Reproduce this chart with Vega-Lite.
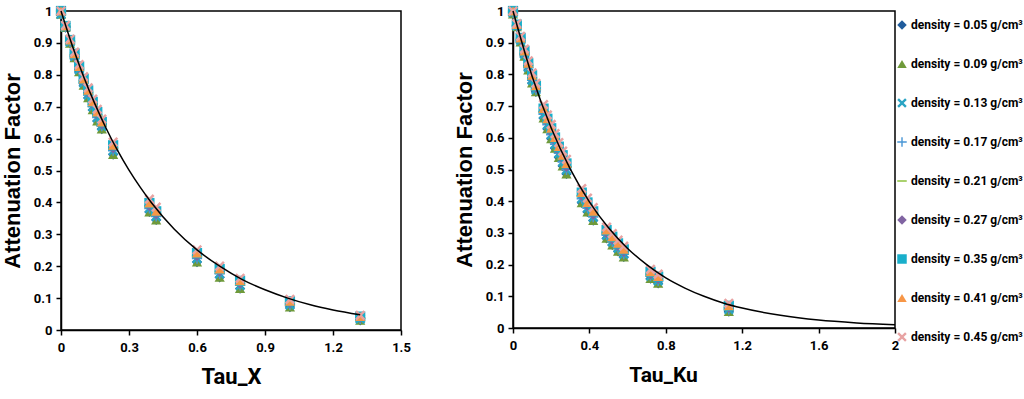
{
 "$schema": "https://vega.github.io/schema/vega-lite/v6.json",
 "background": "white",
 "padding": {"left": 0, "top": 4, "right": 0, "bottom": 0},
 "spacing": 40,
 "config": {
  "view": {"stroke": "#000", "strokeWidth": 1.5},
  "axis": {"grid": false, "domainColor": "#000", "domainWidth": 1.5, "tickColor": "#000", "tickWidth": 1.5, "tickSize": 5, "labelColor": "#000", "titleColor": "#000", "labelFont": "Liberation Sans Narrow, Roboto, sans-serif", "labelFontWeight": "bold", "labelFontSize": 13, "format": "~g", "labelOverlap": false, "labelFlush": false},
  "legend": {"labelFont": "Liberation Sans Narrow, Roboto, sans-serif", "labelFontWeight": "bold", "labelFontSize": 12, "labelColor": "#000", "symbolSize": 90, "symbolStrokeWidth": 0, "rowPadding": 27, "labelOffset": 3, "labelLimit": 200}
 },
 "resolve": {"scale": {"color": "shared", "shape": "shared"}},
 "datasets": {
  "px": [
{"d":"0.05","t":0,"a":0.99},{"d":"0.05","t":0.02,"a":0.948},{"d":"0.05","t":0.04,"a":0.899},{"d":"0.05","t":0.06,"a":0.853},{"d":"0.05","t":0.08,"a":0.809},{"d":"0.05","t":0.1,"a":0.767},{"d":"0.05","t":0.12,"a":0.728},{"d":"0.05","t":0.14,"a":0.69},{"d":"0.05","t":0.16,"a":0.655},{"d":"0.05","t":0.18,"a":0.63},{"d":"0.05","t":0.23,"a":0.55},{"d":"0.05","t":0.39,"a":0.37},{"d":"0.05","t":0.42,"a":0.345},{"d":"0.05","t":0.6,"a":0.213},{"d":"0.05","t":0.7,"a":0.165},{"d":"0.05","t":0.79,"a":0.13},{"d":"0.05","t":1.01,"a":0.072},{"d":"0.05","t":1.32,"a":0.03},
{"d":"0.09","t":0,"a":0.99},{"d":"0.09","t":0.02,"a":0.948},{"d":"0.09","t":0.04,"a":0.899},{"d":"0.09","t":0.06,"a":0.853},{"d":"0.09","t":0.08,"a":0.809},{"d":"0.09","t":0.1,"a":0.767},{"d":"0.09","t":0.12,"a":0.728},{"d":"0.09","t":0.14,"a":0.69},{"d":"0.09","t":0.16,"a":0.655},{"d":"0.09","t":0.18,"a":0.63},{"d":"0.09","t":0.23,"a":0.55},{"d":"0.09","t":0.39,"a":0.37},{"d":"0.09","t":0.42,"a":0.345},{"d":"0.09","t":0.6,"a":0.213},{"d":"0.09","t":0.7,"a":0.165},{"d":"0.09","t":0.79,"a":0.13},{"d":"0.09","t":1.01,"a":0.072},{"d":"0.09","t":1.32,"a":0.03},
{"d":"0.13","t":0,"a":0.99},{"d":"0.13","t":0.02,"a":0.95},{"d":"0.13","t":0.04,"a":0.903},{"d":"0.13","t":0.06,"a":0.858},{"d":"0.13","t":0.08,"a":0.816},{"d":"0.13","t":0.1,"a":0.775},{"d":"0.13","t":0.12,"a":0.737},{"d":"0.13","t":0.14,"a":0.7},{"d":"0.13","t":0.16,"a":0.666},{"d":"0.13","t":0.18,"a":0.639},{"d":"0.13","t":0.23,"a":0.562},{"d":"0.13","t":0.39,"a":0.381},{"d":"0.13","t":0.42,"a":0.356},{"d":"0.13","t":0.6,"a":0.224},{"d":"0.13","t":0.7,"a":0.176},{"d":"0.13","t":0.79,"a":0.14},{"d":"0.13","t":1.01,"a":0.079},{"d":"0.13","t":1.32,"a":0.035},
{"d":"0.17","t":0,"a":0.99},{"d":"0.17","t":0.02,"a":0.95},{"d":"0.17","t":0.04,"a":0.903},{"d":"0.17","t":0.06,"a":0.858},{"d":"0.17","t":0.08,"a":0.816},{"d":"0.17","t":0.1,"a":0.775},{"d":"0.17","t":0.12,"a":0.737},{"d":"0.17","t":0.14,"a":0.7},{"d":"0.17","t":0.16,"a":0.666},{"d":"0.17","t":0.18,"a":0.639},{"d":"0.17","t":0.23,"a":0.562},{"d":"0.17","t":0.39,"a":0.381},{"d":"0.17","t":0.42,"a":0.356},{"d":"0.17","t":0.6,"a":0.224},{"d":"0.17","t":0.7,"a":0.176},{"d":"0.17","t":0.79,"a":0.14},{"d":"0.17","t":1.01,"a":0.079},{"d":"0.17","t":1.32,"a":0.035},
{"d":"0.21","t":0,"a":1},{"d":"0.21","t":0.02,"a":0.952},{"d":"0.21","t":0.04,"a":0.906},{"d":"0.21","t":0.06,"a":0.862},{"d":"0.21","t":0.08,"a":0.821},{"d":"0.21","t":0.1,"a":0.781},{"d":"0.21","t":0.12,"a":0.744},{"d":"0.21","t":0.14,"a":0.707},{"d":"0.21","t":0.16,"a":0.674},{"d":"0.21","t":0.18,"a":0.645},{"d":"0.21","t":0.23,"a":0.57},{"d":"0.21","t":0.39,"a":0.389},{"d":"0.21","t":0.42,"a":0.363},{"d":"0.21","t":0.6,"a":0.232},{"d":"0.21","t":0.7,"a":0.183},{"d":"0.21","t":0.79,"a":0.146},{"d":"0.21","t":1.01,"a":0.084},{"d":"0.21","t":1.32,"a":0.038},
{"d":"0.27","t":0,"a":1},{"d":"0.27","t":0.02,"a":0.952},{"d":"0.27","t":0.04,"a":0.906},{"d":"0.27","t":0.06,"a":0.862},{"d":"0.27","t":0.08,"a":0.821},{"d":"0.27","t":0.1,"a":0.781},{"d":"0.27","t":0.12,"a":0.744},{"d":"0.27","t":0.14,"a":0.707},{"d":"0.27","t":0.16,"a":0.674},{"d":"0.27","t":0.18,"a":0.645},{"d":"0.27","t":0.23,"a":0.57},{"d":"0.27","t":0.39,"a":0.389},{"d":"0.27","t":0.42,"a":0.363},{"d":"0.27","t":0.6,"a":0.232},{"d":"0.27","t":0.7,"a":0.183},{"d":"0.27","t":0.79,"a":0.146},{"d":"0.27","t":1.01,"a":0.084},{"d":"0.27","t":1.32,"a":0.038},
{"d":"0.35","t":0,"a":1},{"d":"0.35","t":0.02,"a":0.953},{"d":"0.35","t":0.04,"a":0.909},{"d":"0.35","t":0.06,"a":0.866},{"d":"0.35","t":0.08,"a":0.826},{"d":"0.35","t":0.1,"a":0.787},{"d":"0.35","t":0.12,"a":0.751},{"d":"0.35","t":0.14,"a":0.715},{"d":"0.35","t":0.16,"a":0.683},{"d":"0.35","t":0.18,"a":0.652},{"d":"0.35","t":0.23,"a":0.579},{"d":"0.35","t":0.39,"a":0.398},{"d":"0.35","t":0.42,"a":0.372},{"d":"0.35","t":0.6,"a":0.241},{"d":"0.35","t":0.7,"a":0.191},{"d":"0.35","t":0.79,"a":0.154},{"d":"0.35","t":1.01,"a":0.09},{"d":"0.35","t":1.32,"a":0.042},
{"d":"0.41","t":0,"a":1},{"d":"0.41","t":0.02,"a":0.953},{"d":"0.41","t":0.04,"a":0.909},{"d":"0.41","t":0.06,"a":0.866},{"d":"0.41","t":0.08,"a":0.826},{"d":"0.41","t":0.1,"a":0.787},{"d":"0.41","t":0.12,"a":0.751},{"d":"0.41","t":0.14,"a":0.715},{"d":"0.41","t":0.16,"a":0.683},{"d":"0.41","t":0.18,"a":0.652},{"d":"0.41","t":0.23,"a":0.579},{"d":"0.41","t":0.39,"a":0.398},{"d":"0.41","t":0.42,"a":0.372},{"d":"0.41","t":0.6,"a":0.241},{"d":"0.41","t":0.7,"a":0.191},{"d":"0.41","t":0.79,"a":0.154},{"d":"0.41","t":1.01,"a":0.09},{"d":"0.41","t":1.32,"a":0.042},
{"d":"0.45","t":0,"a":1},{"d":"0.45","t":0.02,"a":0.955},{"d":"0.45","t":0.04,"a":0.912},{"d":"0.45","t":0.06,"a":0.871},{"d":"0.45","t":0.08,"a":0.832},{"d":"0.45","t":0.1,"a":0.794},{"d":"0.45","t":0.12,"a":0.759},{"d":"0.45","t":0.14,"a":0.724},{"d":"0.45","t":0.16,"a":0.692},{"d":"0.45","t":0.18,"a":0.661},{"d":"0.45","t":0.23,"a":0.589},{"d":"0.45","t":0.39,"a":0.41},{"d":"0.45","t":0.42,"a":0.385},{"d":"0.45","t":0.6,"a":0.251},{"d":"0.45","t":0.7,"a":0.2},{"d":"0.45","t":0.79,"a":0.162},{"d":"0.45","t":1.01,"a":0.096},{"d":"0.45","t":1.32,"a":0.046}
  ],
  "pk": [
{"d":"0.05","t":0,"a":0.99},{"d":"0.05","t":0.02,"a":0.95},{"d":"0.05","t":0.04,"a":0.902},{"d":"0.05","t":0.06,"a":0.857},{"d":"0.05","t":0.08,"a":0.814},{"d":"0.05","t":0.1,"a":0.773},{"d":"0.05","t":0.12,"a":0.745},{"d":"0.05","t":0.16,"a":0.662},{"d":"0.05","t":0.18,"a":0.628},{"d":"0.05","t":0.2,"a":0.597},{"d":"0.05","t":0.22,"a":0.567},{"d":"0.05","t":0.24,"a":0.538},{"d":"0.05","t":0.26,"a":0.511},{"d":"0.05","t":0.28,"a":0.486},{"d":"0.05","t":0.36,"a":0.395},{"d":"0.05","t":0.39,"a":0.366},{"d":"0.05","t":0.42,"a":0.339},{"d":"0.05","t":0.49,"a":0.283},{"d":"0.05","t":0.52,"a":0.262},{"d":"0.05","t":0.55,"a":0.242},{"d":"0.05","t":0.58,"a":0.224},{"d":"0.05","t":0.72,"a":0.156},{"d":"0.05","t":0.76,"a":0.141},{"d":"0.05","t":1.13,"a":0.052},
{"d":"0.09","t":0,"a":0.99},{"d":"0.09","t":0.02,"a":0.95},{"d":"0.09","t":0.04,"a":0.902},{"d":"0.09","t":0.06,"a":0.857},{"d":"0.09","t":0.08,"a":0.814},{"d":"0.09","t":0.1,"a":0.773},{"d":"0.09","t":0.12,"a":0.745},{"d":"0.09","t":0.16,"a":0.662},{"d":"0.09","t":0.18,"a":0.628},{"d":"0.09","t":0.2,"a":0.597},{"d":"0.09","t":0.22,"a":0.567},{"d":"0.09","t":0.24,"a":0.538},{"d":"0.09","t":0.26,"a":0.511},{"d":"0.09","t":0.28,"a":0.486},{"d":"0.09","t":0.36,"a":0.395},{"d":"0.09","t":0.39,"a":0.366},{"d":"0.09","t":0.42,"a":0.339},{"d":"0.09","t":0.49,"a":0.283},{"d":"0.09","t":0.52,"a":0.262},{"d":"0.09","t":0.55,"a":0.242},{"d":"0.09","t":0.58,"a":0.224},{"d":"0.09","t":0.72,"a":0.156},{"d":"0.09","t":0.76,"a":0.141},{"d":"0.09","t":1.13,"a":0.052},
{"d":"0.13","t":0,"a":0.995},{"d":"0.13","t":0.02,"a":0.953},{"d":"0.13","t":0.04,"a":0.907},{"d":"0.13","t":0.06,"a":0.864},{"d":"0.13","t":0.08,"a":0.822},{"d":"0.13","t":0.1,"a":0.782},{"d":"0.13","t":0.12,"a":0.752},{"d":"0.13","t":0.16,"a":0.674},{"d":"0.13","t":0.18,"a":0.641},{"d":"0.13","t":0.2,"a":0.61},{"d":"0.13","t":0.22,"a":0.58},{"d":"0.13","t":0.24,"a":0.551},{"d":"0.13","t":0.26,"a":0.524},{"d":"0.13","t":0.28,"a":0.499},{"d":"0.13","t":0.36,"a":0.408},{"d":"0.13","t":0.39,"a":0.378},{"d":"0.13","t":0.42,"a":0.35},{"d":"0.13","t":0.49,"a":0.293},{"d":"0.13","t":0.52,"a":0.272},{"d":"0.13","t":0.55,"a":0.252},{"d":"0.13","t":0.58,"a":0.233},{"d":"0.13","t":0.72,"a":0.164},{"d":"0.13","t":0.76,"a":0.149},{"d":"0.13","t":1.13,"a":0.059},
{"d":"0.17","t":0,"a":0.995},{"d":"0.17","t":0.02,"a":0.953},{"d":"0.17","t":0.04,"a":0.907},{"d":"0.17","t":0.06,"a":0.864},{"d":"0.17","t":0.08,"a":0.822},{"d":"0.17","t":0.1,"a":0.782},{"d":"0.17","t":0.12,"a":0.752},{"d":"0.17","t":0.16,"a":0.674},{"d":"0.17","t":0.18,"a":0.641},{"d":"0.17","t":0.2,"a":0.61},{"d":"0.17","t":0.22,"a":0.58},{"d":"0.17","t":0.24,"a":0.551},{"d":"0.17","t":0.26,"a":0.524},{"d":"0.17","t":0.28,"a":0.499},{"d":"0.17","t":0.36,"a":0.408},{"d":"0.17","t":0.39,"a":0.378},{"d":"0.17","t":0.42,"a":0.35},{"d":"0.17","t":0.49,"a":0.293},{"d":"0.17","t":0.52,"a":0.272},{"d":"0.17","t":0.55,"a":0.252},{"d":"0.17","t":0.58,"a":0.233},{"d":"0.17","t":0.72,"a":0.164},{"d":"0.17","t":0.76,"a":0.149},{"d":"0.17","t":1.13,"a":0.059},
{"d":"0.21","t":0,"a":1},{"d":"0.21","t":0.02,"a":0.955},{"d":"0.21","t":0.04,"a":0.911},{"d":"0.21","t":0.06,"a":0.869},{"d":"0.21","t":0.08,"a":0.828},{"d":"0.21","t":0.1,"a":0.789},{"d":"0.21","t":0.12,"a":0.758},{"d":"0.21","t":0.16,"a":0.682},{"d":"0.21","t":0.18,"a":0.65},{"d":"0.21","t":0.2,"a":0.619},{"d":"0.21","t":0.22,"a":0.59},{"d":"0.21","t":0.24,"a":0.561},{"d":"0.21","t":0.26,"a":0.534},{"d":"0.21","t":0.28,"a":0.508},{"d":"0.21","t":0.36,"a":0.417},{"d":"0.21","t":0.39,"a":0.386},{"d":"0.21","t":0.42,"a":0.358},{"d":"0.21","t":0.49,"a":0.3},{"d":"0.21","t":0.52,"a":0.279},{"d":"0.21","t":0.55,"a":0.259},{"d":"0.21","t":0.58,"a":0.24},{"d":"0.21","t":0.72,"a":0.17},{"d":"0.21","t":0.76,"a":0.155},{"d":"0.21","t":1.13,"a":0.064},
{"d":"0.27","t":0,"a":1},{"d":"0.27","t":0.02,"a":0.955},{"d":"0.27","t":0.04,"a":0.911},{"d":"0.27","t":0.06,"a":0.869},{"d":"0.27","t":0.08,"a":0.828},{"d":"0.27","t":0.1,"a":0.789},{"d":"0.27","t":0.12,"a":0.758},{"d":"0.27","t":0.16,"a":0.682},{"d":"0.27","t":0.18,"a":0.65},{"d":"0.27","t":0.2,"a":0.619},{"d":"0.27","t":0.22,"a":0.59},{"d":"0.27","t":0.24,"a":0.561},{"d":"0.27","t":0.26,"a":0.534},{"d":"0.27","t":0.28,"a":0.508},{"d":"0.27","t":0.36,"a":0.417},{"d":"0.27","t":0.39,"a":0.386},{"d":"0.27","t":0.42,"a":0.358},{"d":"0.27","t":0.49,"a":0.3},{"d":"0.27","t":0.52,"a":0.279},{"d":"0.27","t":0.55,"a":0.259},{"d":"0.27","t":0.58,"a":0.24},{"d":"0.27","t":0.72,"a":0.17},{"d":"0.27","t":0.76,"a":0.155},{"d":"0.27","t":1.13,"a":0.064},
{"d":"0.35","t":0,"a":1},{"d":"0.35","t":0.02,"a":0.957},{"d":"0.35","t":0.04,"a":0.915},{"d":"0.35","t":0.06,"a":0.874},{"d":"0.35","t":0.08,"a":0.835},{"d":"0.35","t":0.1,"a":0.797},{"d":"0.35","t":0.12,"a":0.764},{"d":"0.35","t":0.16,"a":0.692},{"d":"0.35","t":0.18,"a":0.66},{"d":"0.35","t":0.2,"a":0.63},{"d":"0.35","t":0.22,"a":0.601},{"d":"0.35","t":0.24,"a":0.572},{"d":"0.35","t":0.26,"a":0.545},{"d":"0.35","t":0.28,"a":0.519},{"d":"0.35","t":0.36,"a":0.427},{"d":"0.35","t":0.39,"a":0.396},{"d":"0.35","t":0.42,"a":0.368},{"d":"0.35","t":0.49,"a":0.309},{"d":"0.35","t":0.52,"a":0.288},{"d":"0.35","t":0.55,"a":0.267},{"d":"0.35","t":0.58,"a":0.248},{"d":"0.35","t":0.72,"a":0.177},{"d":"0.35","t":0.76,"a":0.162},{"d":"0.35","t":1.13,"a":0.07},
{"d":"0.41","t":0,"a":1},{"d":"0.41","t":0.02,"a":0.957},{"d":"0.41","t":0.04,"a":0.915},{"d":"0.41","t":0.06,"a":0.874},{"d":"0.41","t":0.08,"a":0.835},{"d":"0.41","t":0.1,"a":0.797},{"d":"0.41","t":0.12,"a":0.764},{"d":"0.41","t":0.16,"a":0.692},{"d":"0.41","t":0.18,"a":0.66},{"d":"0.41","t":0.2,"a":0.63},{"d":"0.41","t":0.22,"a":0.601},{"d":"0.41","t":0.24,"a":0.572},{"d":"0.41","t":0.26,"a":0.545},{"d":"0.41","t":0.28,"a":0.519},{"d":"0.41","t":0.36,"a":0.427},{"d":"0.41","t":0.39,"a":0.396},{"d":"0.41","t":0.42,"a":0.368},{"d":"0.41","t":0.49,"a":0.309},{"d":"0.41","t":0.52,"a":0.288},{"d":"0.41","t":0.55,"a":0.267},{"d":"0.41","t":0.58,"a":0.248},{"d":"0.41","t":0.72,"a":0.177},{"d":"0.41","t":0.76,"a":0.162},{"d":"0.41","t":1.13,"a":0.07},
{"d":"0.45","t":0,"a":1},{"d":"0.45","t":0.02,"a":0.96},{"d":"0.45","t":0.04,"a":0.92},{"d":"0.45","t":0.06,"a":0.88},{"d":"0.45","t":0.08,"a":0.843},{"d":"0.45","t":0.1,"a":0.805},{"d":"0.45","t":0.12,"a":0.772},{"d":"0.45","t":0.16,"a":0.705},{"d":"0.45","t":0.18,"a":0.672},{"d":"0.45","t":0.2,"a":0.642},{"d":"0.45","t":0.22,"a":0.613},{"d":"0.45","t":0.24,"a":0.585},{"d":"0.45","t":0.26,"a":0.558},{"d":"0.45","t":0.28,"a":0.532},{"d":"0.45","t":0.36,"a":0.44},{"d":"0.45","t":0.39,"a":0.41},{"d":"0.45","t":0.42,"a":0.38},{"d":"0.45","t":0.49,"a":0.318},{"d":"0.45","t":0.52,"a":0.298},{"d":"0.45","t":0.55,"a":0.277},{"d":"0.45","t":0.58,"a":0.258},{"d":"0.45","t":0.72,"a":0.185},{"d":"0.45","t":0.76,"a":0.17},{"d":"0.45","t":1.13,"a":0.078}
  ],
  "cx": [
{"t":0,"a":1},{"t":0.05,"a":0.891},{"t":0.1,"a":0.794},{"t":0.15,"a":0.708},{"t":0.2,"a":0.631},{"t":0.25,"a":0.562},{"t":0.3,"a":0.501},{"t":0.35,"a":0.447},{"t":0.4,"a":0.398},{"t":0.5,"a":0.316},{"t":0.6,"a":0.251},{"t":0.7,"a":0.2},{"t":0.8,"a":0.158},{"t":0.9,"a":0.126},{"t":1.0,"a":0.1},{"t":1.1,"a":0.079},{"t":1.2,"a":0.063},{"t":1.32,"a":0.048}
  ],
  "ck": [
{"t":0,"a":1},{"t":0.1,"a":0.794},{"t":0.2,"a":0.631},{"t":0.3,"a":0.501},{"t":0.4,"a":0.398},{"t":0.5,"a":0.316},{"t":0.6,"a":0.251},{"t":0.7,"a":0.2},{"t":0.8,"a":0.158},{"t":0.9,"a":0.126},{"t":1.0,"a":0.1},{"t":1.1,"a":0.079},{"t":1.2,"a":0.063},{"t":1.4,"a":0.04},{"t":1.6,"a":0.025},{"t":1.8,"a":0.016},{"t":2.0,"a":0.01}
  ]
 },
 "hconcat": [
  {
   "width": 340, "height": 319,
   "layer": [
    {
     "data": {"name": "px"},
     "mark": {"type": "point", "filled": true, "size": 105, "opacity": 1},
     "encoding": {
      "x": {"field": "t", "type": "quantitative", "scale": {"domain": [0, 1.5], "nice": false}, "axis": {"values": [0, 0.3, 0.6, 0.9, 1.2, 1.5], "title": "Tau_X", "titleFont": "Liberation Sans Narrow, Roboto, sans-serif", "titleFontSize": 22, "titleFontWeight": "bold", "titlePadding": 12, "labelPadding": 6, "labelOverlap": false}},
      "y": {"field": "a", "type": "quantitative", "scale": {"domain": [0, 1], "nice": false}, "axis": {"tickCount": 10, "title": "Attenuation Factor", "titleFont": "Liberation Sans, Arial, sans-serif", "titleFontSize": 22, "titleFontWeight": "bold", "titlePadding": 9, "labelPadding": 4, "labelOverlap": false, "labelSeparation": 0}},
      "color": {"field": "d", "type": "nominal", "scale": {"domain": ["0.05", "0.09", "0.13", "0.17", "0.21", "0.27", "0.35", "0.41", "0.45"], "range": ["#1F5C9C", "#6F9A3A", "#2AA4C4", "#4A97D6", "#9CC955", "#8064A2", "#19AFCB", "#F79646", "#E8A3A3"]}, "legend": {"title": null, "orient": "none", "legendX": 835, "legendY": 8, "labelExpr": "'density = ' + datum.label + ' g/cm³'"}},
      "shape": {"field": "d", "type": "nominal", "scale": {"domain": ["0.05", "0.09", "0.13", "0.17", "0.21", "0.27", "0.35", "0.41", "0.45"], "range": ["diamond", "triangle-up", "M-1,-0.65L-0.65,-1L0,-0.35L0.65,-1L1,-0.65L0.35,0L1,0.65L0.65,1L0,0.35L-0.65,1L-1,0.65L-0.35,0Z", "M-0.15,-1H0.15V-0.15H1V0.15H0.15V1H-0.15V0.15H-1V-0.15H-0.15Z", "M-1,-0.18H1V0.18H-1Z", "diamond", "square", "triangle-up", "M-1,-0.65L-0.65,-1L0,-0.35L0.65,-1L1,-0.65L0.35,0L1,0.65L0.65,1L0,0.35L-0.65,1L-1,0.65L-0.35,0Z"]}}
     }
    },
    {
     "data": {"name": "cx"},
     "mark": {"type": "line", "color": "#000", "strokeWidth": 1.5, "interpolate": "monotone"},
     "encoding": {"x": {"field": "t", "type": "quantitative"}, "y": {"field": "a", "type": "quantitative"}}
    }
   ]
  },
  {
   "width": 382, "height": 317,
   "layer": [
    {
     "data": {"name": "pk"},
     "mark": {"type": "point", "filled": true, "size": 105, "opacity": 1},
     "encoding": {
      "x": {"field": "t", "type": "quantitative", "scale": {"domain": [0, 2], "nice": false}, "axis": {"values": [0, 0.4, 0.8, 1.2, 1.6, 2], "title": "Tau_Ku", "titleFont": "Liberation Sans Narrow, Roboto, sans-serif", "titleFontSize": 21, "titleFontWeight": "bold", "titlePadding": 12, "labelPadding": 6, "titleX": 150, "labelOverlap": false}},
      "y": {"field": "a", "type": "quantitative", "scale": {"domain": [0, 1], "nice": false}, "axis": {"tickCount": 10, "title": "Attenuation Factor", "titleFont": "Liberation Sans, Arial, sans-serif", "titleFontSize": 22, "titleFontWeight": "bold", "titlePadding": 9, "labelPadding": 4, "labelOverlap": false, "labelSeparation": 0}},
      "color": {"field": "d", "type": "nominal"},
      "shape": {"field": "d", "type": "nominal"}
     }
    },
    {
     "data": {"name": "ck"},
     "mark": {"type": "line", "color": "#000", "strokeWidth": 1.5, "interpolate": "monotone"},
     "encoding": {"x": {"field": "t", "type": "quantitative"}, "y": {"field": "a", "type": "quantitative"}}
    }
   ]
  }
 ]
}
